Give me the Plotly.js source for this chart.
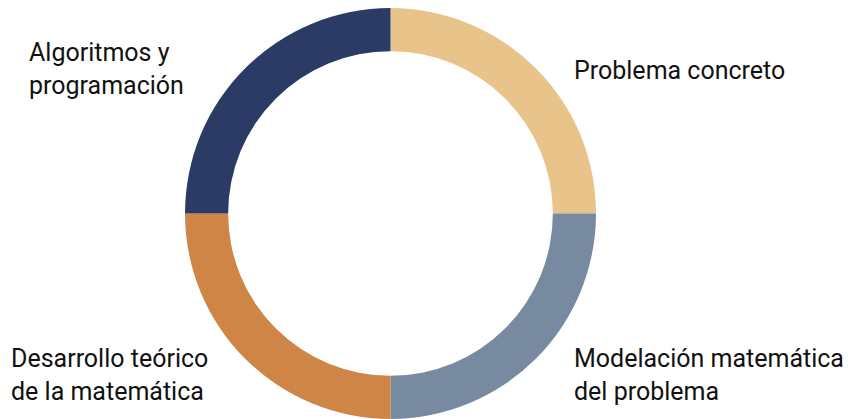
<!DOCTYPE html>
<html>
<head>
<meta charset="utf-8">
<script src="https://cdn.plot.ly/plotly-3.0.1.min.js"></script>
<style>
html,body{margin:0;padding:0;background:#fff;}
#chart{width:848px;height:419px;}
</style>
</head>
<body>
<div id="chart"></div>
<script>
const categories = ["Problema concreto", "Modelación matemática<br>del problema", "Desarrollo teórico<br>de la matemática", "Algoritmos y<br>programación"];
const values = [1, 1, 1, 1];
const colors = ["#E8C48B", "#778A9F", "#CE8545", "#2B3B65"];

const W = 848, H = 419;
const px = x => x / W;
const py = y => 1 - y / H;

const labelPos = [
  {x: 572, y: 70},
  {x: 572, y: 375},
  {x: 9, y: 375},
  {x: 27, y: 69}
];

const trace = {
  type: "pie",
  labels: categories,
  values: values,
  sort: false,
  direction: "clockwise",
  rotation: 0,
  hole: 0.79,
  textinfo: "none",
  hoverinfo: "label",
  marker: {colors: colors, line: {width: 0}},
  domain: {x: [0, 781 / W], y: [0, 1 - 8 / H]},
  showlegend: false
};

const annotations = categories.map((c, i) => ({
  text: c,
  xref: "paper", yref: "paper",
  x: px(labelPos[i].x), y: py(labelPos[i].y),
  xanchor: "left", yanchor: "middle", align: "left",
  showarrow: false,
  font: {family: "Roboto, sans-serif", size: 25, color: "#111"}
}));

Plotly.newPlot("chart", [trace], {
  width: W, height: H,
  margin: {l: 0, r: 0, t: 0, b: 0},
  paper_bgcolor: "#fff",
  plot_bgcolor: "#fff",
  showlegend: false,
  annotations: annotations
}, {displayModeBar: false, staticPlot: true});
</script>
</body>
</html>
